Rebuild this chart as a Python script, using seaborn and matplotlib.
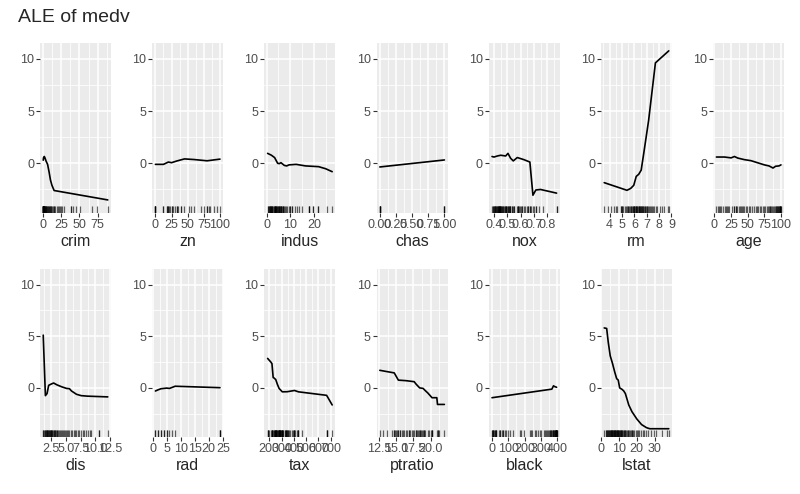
import seaborn as sns
import matplotlib.pyplot as plt
from matplotlib.ticker import MultipleLocator, FormatStrFormatter

# ALE curves (feature value, ALE)
crim_x = [0.006, 0.5, 1.5, 2.5, 4.0, 6.0, 8.0, 10.0, 12.0, 15.0, 88.98]
crim_y = [0.3, 0.55, 0.65, 0.5, 0.2, -0.1, -0.8, -1.6, -2.1, -2.6, -3.5]
zn_x = [0, 12.5, 20, 25, 33, 45, 60, 80, 100]
zn_y = [-0.1, -0.1, 0.12, 0.06, 0.22, 0.42, 0.36, 0.24, 0.4]
indus_x = [0.46, 2.0, 3.4, 4.7, 5.4, 6.1, 7.5, 8.5, 9.5, 12.5, 16.5, 22.0, 25.0, 27.74]
indus_y = [0.95, 0.78, 0.55, 0.0, -0.03, 0.06, -0.2, -0.25, -0.15, -0.1, -0.25, -0.32, -0.52, -0.8]
chas_x = [0, 1]
chas_y = [-0.35, 0.32]
nox_x = [0.385, 0.40, 0.425, 0.45, 0.488, 0.505, 0.525, 0.545, 0.575, 0.625, 0.67, 0.693, 0.715, 0.75, 0.871]
nox_y = [0.65, 0.6, 0.7, 0.77, 0.7, 0.95, 0.48, 0.23, 0.55, 0.35, 0.12, -3.05, -2.55, -2.5, -2.85]
rm_x = [3.561, 5.2, 5.4, 5.7, 5.95, 6.15, 6.35, 6.55, 6.75, 7.15, 7.7, 8.78]
rm_y = [-1.85, -2.5, -2.58, -2.4, -2.1, -1.25, -1.05, -0.65, 0.9, 4.1, 9.6, 10.75]
age_x = [2.9, 15, 25, 30, 35, 45, 55, 65, 75, 82, 88, 92, 97, 100]
age_y = [0.6, 0.6, 0.52, 0.65, 0.5, 0.35, 0.25, 0.05, -0.15, -0.25, -0.45, -0.28, -0.25, -0.15]
dis_x = [1.13, 1.5, 1.78, 2.06, 2.6, 2.9, 3.45, 4.3, 5.1, 5.6, 5.95, 6.8, 7.6, 8.7, 12.13]
dis_y = [5.1, -0.75, -0.55, 0.25, 0.4, 0.47, 0.3, 0.1, -0.05, -0.08, -0.3, -0.62, -0.75, -0.8, -0.87]
rad_x = [1, 2, 3, 4, 5, 6, 7, 8, 24]
rad_y = [-0.3, -0.18, -0.08, -0.05, -0.02, -0.05, 0.05, 0.16, 0.02]
tax_x = [187, 213, 222, 232, 240, 253, 266, 280, 306, 346, 405, 437, 666, 711]
tax_y = [2.85, 2.5, 2.35, 1.0, 0.95, 0.8, 0.35, -0.05, -0.38, -0.37, -0.25, -0.38, -0.72, -1.65]
ptratio_x = [12.6, 14.7, 15.3, 16.4, 17.6, 17.9, 18.4, 18.9, 19.2, 19.6, 20.2, 20.9, 21.0, 22.0]
ptratio_y = [1.7, 1.45, 0.75, 0.7, 0.6, 0.35, 0.0, -0.05, -0.25, -0.5, -0.95, -0.95, -1.6, -1.6]
black_x = [0.32, 368, 378, 386, 396.9]
black_y = [-0.95, -0.12, 0.2, 0.12, 0.06]
lstat_x = [1.73, 3.1, 4.0, 5.1, 6.4, 7.6, 8.7, 9.6, 10.4, 11.8, 12.7, 13.6, 15.5, 17.3, 20.0, 22.7, 25.5, 27.3, 37.97]
lstat_y = [5.8, 5.75, 4.4, 3.1, 2.35, 1.55, 0.9, 0.75, 0.0, -0.15, -0.3, -0.55, -1.65, -2.3, -3.0, -3.55, -3.85, -3.95, -3.95]

# rug values (approximate distribution of each feature)
crim_rug = [0.006, 0.01, 0.02, 0.03, 0.04, 0.05, 0.06, 0.08, 0.1, 0.13, 0.17, 0.2, 0.25, 0.3, 0.4, 0.5,
            0.6, 0.8, 1.0, 1.2, 1.5, 2.0, 2.5, 3.0, 3.5, 4.0, 4.5, 5.0, 5.7, 6.5, 7.0, 7.8, 8.2, 9.0,
            9.9, 10.8, 11.1, 12.0, 13.5, 14.3, 15.2, 15.9, 18.5, 20.1, 22.0, 23.6, 24.8, 25.9, 28.7,
            37.7, 38.4, 41.5, 45.7, 51.1, 67.9, 73.5, 88.98]
zn_rug = [0, 0, 0, 0, 0, 12.5, 12.5, 17.5, 18, 20, 20, 21, 22, 25, 25, 28, 30, 33, 34, 35, 40, 40,
          45, 52.5, 55, 60, 70, 75, 80, 80, 82.5, 85, 90, 95, 100]
indus_rug = [0.46, 0.74, 1.21, 1.25, 1.38, 1.47, 1.52, 1.69, 1.89, 2.01, 2.18, 2.24, 2.46, 2.89, 2.95,
             3.24, 3.41, 3.44, 3.64, 3.75, 3.97, 4.05, 4.15, 4.39, 4.49, 4.86, 4.93, 5.13, 5.19, 5.32,
             5.64, 5.86, 5.96, 6.06, 6.2, 6.41, 6.91, 6.96, 7.07, 7.38, 7.87, 8.14, 8.56, 9.69, 9.9,
             10.01, 10.59, 10.81, 11.93, 12.83, 13.89, 15.04, 18.1, 18.1, 18.1, 19.58, 19.58, 21.89,
             21.89, 25.65, 27.74]
chas_rug = [0, 0, 0, 0, 0, 1, 1, 1]
nox_rug = [0.385, 0.389, 0.392, 0.398, 0.4, 0.404, 0.409, 0.411, 0.413, 0.415, 0.422, 0.426, 0.428,
           0.429, 0.433, 0.435, 0.437, 0.438, 0.439, 0.442, 0.445, 0.447, 0.448, 0.449, 0.453, 0.458,
           0.46, 0.464, 0.469, 0.472, 0.479, 0.484, 0.488, 0.489, 0.493, 0.499, 0.504, 0.507, 0.51,
           0.515, 0.518, 0.52, 0.524, 0.532, 0.538, 0.544, 0.547, 0.55, 0.573, 0.581, 0.583, 0.584,
           0.585, 0.597, 0.605, 0.609, 0.614, 0.624, 0.631, 0.647, 0.655, 0.659, 0.668, 0.671, 0.679,
           0.693, 0.7, 0.713, 0.718, 0.74, 0.77, 0.871, 0.871]
rm_rug = [3.561, 3.863, 4.138, 4.368, 4.519, 4.628, 4.88, 4.906, 4.973, 5.0, 5.093, 5.272, 5.344,
          5.404, 5.456, 5.52, 5.594, 5.628, 5.701, 5.757, 5.813, 5.857, 5.888, 5.935, 5.963, 6.004,
          6.059, 6.103, 6.14, 6.169, 6.211, 6.25, 6.29, 6.333, 6.376, 6.405, 6.43, 6.474, 6.513,
          6.549, 6.59, 6.63, 6.674, 6.727, 6.781, 6.824, 6.874, 6.939, 6.98, 7.041, 7.107, 7.185,
          7.249, 7.333, 7.42, 7.52, 7.61, 7.765, 7.853, 8.04, 8.247, 8.375, 8.704, 8.78]
age_rug = [2.9, 6.0, 6.5, 8.4, 9.8, 13.0, 15.8, 17.0, 18.4, 20.8, 21.4, 26.3, 28.9, 29.3, 31.9, 33.0,
           34.2, 36.6, 38.1, 40.0, 41.1, 42.4, 45.0, 47.6, 49.1, 51.8, 53.8, 56.5, 58.7, 61.8, 64.5,
           66.1, 68.2, 70.4, 72.5, 74.4, 76.7, 78.3, 79.9, 81.6, 83.0, 84.1, 85.4, 86.9, 88.0, 89.6,
           90.8, 91.9, 92.9, 93.8, 94.5, 95.4, 96.1, 96.9, 97.4, 97.9, 98.2, 98.8, 99.1, 100.0, 100.0]
dis_rug = [1.13, 1.17, 1.32, 1.41, 1.45, 1.52, 1.61, 1.69, 1.76, 1.83, 1.91, 1.99, 2.04, 2.1, 2.2,
           2.29, 2.38, 2.43, 2.5, 2.6, 2.7, 2.8, 2.9, 3.05, 3.1, 3.2, 3.3, 3.4, 3.5, 3.65, 3.8, 3.95,
           4.1, 4.25, 4.43, 4.6, 4.8, 5.0, 5.21, 5.4, 5.6, 5.87, 6.05, 6.3, 6.5, 6.8, 7.0, 7.3, 7.6,
           7.83, 8.01, 8.34, 8.7, 9.09, 9.22, 10.59, 10.71, 12.13]
rad_rug = [1, 1, 2, 2, 3, 3, 4, 4, 5, 5, 6, 7, 8, 24, 24, 24]
tax_rug = [187, 188, 193, 198, 216, 222, 223, 224, 226, 233, 241, 242, 243, 244, 245, 247, 252, 254,
           255, 256, 264, 265, 270, 273, 276, 277, 279, 280, 281, 284, 285, 287, 289, 293, 296, 300,
           304, 305, 307, 311, 315, 329, 330, 334, 335, 337, 345, 348, 351, 352, 358, 370, 384, 391,
           398, 402, 403, 411, 422, 430, 432, 437, 469, 666, 666, 666, 711]
ptratio_rug = [12.6, 13.0, 13.6, 14.4, 14.7, 14.7, 14.8, 14.9, 15.1, 15.2, 15.3, 15.5, 15.6, 15.9,
               16.0, 16.1, 16.4, 16.6, 16.8, 16.9, 17.0, 17.3, 17.4, 17.6, 17.8, 17.9, 18.0, 18.2,
               18.3, 18.4, 18.5, 18.6, 18.7, 18.9, 19.0, 19.1, 19.2, 19.6, 19.7, 20.1, 20.2, 20.2,
               20.2, 20.9, 21.0, 21.1, 21.2, 22.0]
black_rug = [0.32, 2.6, 3.5, 6.7, 7.7, 10.5, 16.5, 18.8, 22.0, 24.7, 27.3, 43.1, 48.5, 50.9, 60.7,
             68.9, 70.8, 81.3, 88.0, 100.2, 109.9, 131.4, 169.3, 178.0, 196.6, 232.6, 240.2, 248.3,
             261.9, 272.2, 285.8, 294.3, 302.8, 318.4, 325.9, 331.3, 338.6, 344.9, 350.5, 354.7,
             358.8, 362.3, 364.3, 368.6, 372.8, 375.3, 377.7, 380.0, 383.3, 385.4, 387.3, 389.4,
             390.9, 392.8, 393.7, 394.1, 395.2, 395.6, 396.1, 396.9, 396.9, 396.9]
lstat_rug = [1.73, 2.47, 2.87, 3.11, 3.53, 3.76, 4.03, 4.38, 4.59, 4.82, 5.04, 5.29, 5.5, 5.7, 5.98,
             6.15, 6.36, 6.58, 6.78, 7.01, 7.19, 7.39, 7.6, 7.83, 8.05, 8.26, 8.47, 8.67, 8.88, 9.1,
             9.29, 9.5, 9.71, 9.93, 10.13, 10.36, 10.58, 10.87, 11.1, 11.34, 11.64, 11.97, 12.3, 12.6,
             12.92, 13.27, 13.6, 14.0, 14.4, 14.8, 15.1, 15.6, 16.1, 16.5, 17.1, 17.6, 18.1, 18.7,
             19.4, 20.1, 20.8, 21.5, 22.6, 23.3, 24.1, 25.4, 26.4, 27.8, 29.5, 30.6, 34.4, 36.9, 37.97]

features = ['crim', 'zn', 'indus', 'chas', 'nox', 'rm', 'age',
            'dis', 'rad', 'tax', 'ptratio', 'black', 'lstat']
curves = {
    'crim': (crim_x, crim_y, crim_rug), 'zn': (zn_x, zn_y, zn_rug),
    'indus': (indus_x, indus_y, indus_rug), 'chas': (chas_x, chas_y, chas_rug),
    'nox': (nox_x, nox_y, nox_rug), 'rm': (rm_x, rm_y, rm_rug),
    'age': (age_x, age_y, age_rug), 'dis': (dis_x, dis_y, dis_rug),
    'rad': (rad_x, rad_y, rad_rug), 'tax': (tax_x, tax_y, tax_rug),
    'ptratio': (ptratio_x, ptratio_y, ptratio_rug), 'black': (black_x, black_y, black_rug),
    'lstat': (lstat_x, lstat_y, lstat_rug),
}
# x tick step and decimals per feature
x_step = {'crim': (25, 0), 'zn': (25, 0), 'indus': (10, 0), 'chas': (0.25, 2), 'nox': (0.1, 1),
          'rm': (1, 0), 'age': (25, 0), 'dis': (2.5, 1), 'rad': (5, 0), 'tax': (100, 0),
          'ptratio': (2.5, 1), 'black': (100, 0), 'lstat': (10, 0)}

sns.set_theme(style='darkgrid', rc={
    'axes.facecolor': '#EBEBEB', 'grid.color': 'white', 'axes.edgecolor': '#EBEBEB',
    'xtick.color': '#333333', 'ytick.color': '#333333',
    'xtick.labelcolor': '#4D4D4D', 'ytick.labelcolor': '#4D4D4D',
    'xtick.bottom': True, 'ytick.left': True,
    'xtick.major.size': 2.75, 'ytick.major.size': 2.75,
    'xtick.major.width': 0.8, 'ytick.major.width': 0.8,
    'xtick.major.pad': 1.5, 'ytick.major.pad': 1.5,
})
plt.rcParams['font.family'] = ['Liberation Sans', 'DejaVu Sans']

W, H = 800, 494
fig = plt.figure(figsize=(8, 4.94), dpi=100)
fig.text(18 / W, 1 - 17 / H, 'ALE of medv', fontsize=14, va='center', ha='left')

ylo, yhi = -4.75, 11.5
for i, name in enumerate(features):
    row, col = divmod(i, 7)
    left = 40 + col * 112.2
    top, bottom = (43, 213) if row == 0 else (269, 437)
    ax = fig.add_axes([left / W, 1 - bottom / H, 71 / W, (bottom - top) / H])
    xs, ys, rug = curves[name]
    lo = min(min(xs), min(rug))
    hi = max(max(xs), max(rug))
    pad = (hi - lo) * 0.05
    sns.rugplot(x=rug, ax=ax, height=0.04, color='black', alpha=0.6, linewidth=0.9)
    sns.lineplot(x=xs, y=ys, ax=ax, color='black', linewidth=1.2)
    ax.set_xlim(lo - pad, hi + pad)
    ax.set_ylim(ylo, yhi)
    step, dec = x_step[name]
    ax.xaxis.set_major_locator(MultipleLocator(step))
    ax.xaxis.set_minor_locator(MultipleLocator(step / 2))
    ax.xaxis.set_major_formatter(FormatStrFormatter('%.' + str(dec) + 'f'))
    ax.yaxis.set_major_locator(MultipleLocator(5))
    ax.yaxis.set_minor_locator(MultipleLocator(2.5))
    ax.grid(which='major', color='white', linewidth=1.1)
    ax.grid(which='minor', color='white', linewidth=0.55)
    ax.tick_params(which='minor', length=0)
    ax.tick_params(axis='both', labelsize=9)
    for s in ax.spines.values():
        s.set_visible(False)
    ax.set_xlabel(name, fontsize=11.5, labelpad=2)
    ax.set_ylabel('')

fig.savefig('out.png', dpi=100)
